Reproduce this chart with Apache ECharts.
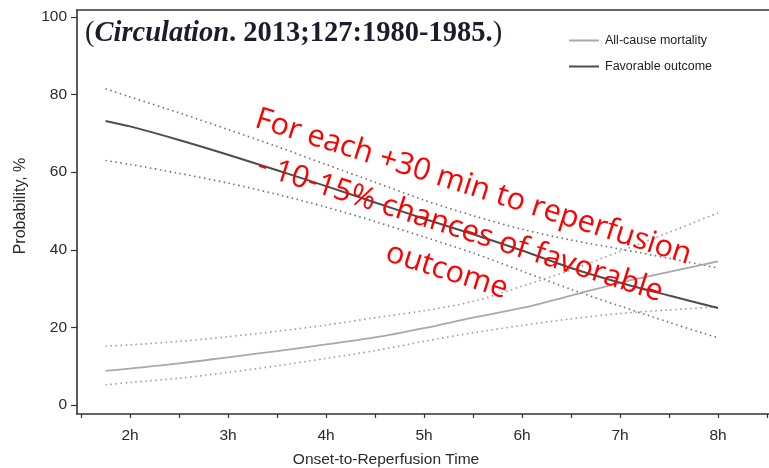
<!DOCTYPE html>
<html>
<head>
<meta charset="utf-8">
<script src="https://cdn.jsdelivr.net/npm/echarts@6/dist/echarts.min.js"></script>
<style>
  html, body { margin: 0; padding: 0; background: #fff; }
  #chart { width: 769px; height: 468px; }
</style>
</head>
<body>
<div id="chart"></div>
<script>
// Onset-to-reperfusion time (hours) at which the model curves are sampled
const hours = [1.75, 2, 2.5, 3, 3.5, 4, 4.5, 5, 5.5, 6, 6.5, 7, 7.5, 8];

// Probability (%) of favorable outcome with its confidence band
const favorable      = [73.2, 71.8, 68.3, 64.5, 60.5, 56.4, 52.2, 48.0, 44.0, 39.8, 35.3, 31.5, 28.2, 25.0];
const favorableUpper = [81.5, 79.4, 75.3, 71.0, 66.6, 62.0, 57.4, 52.8, 48.8, 45.3, 42.5, 40.2, 37.8, 35.3];
const favorableLower = [63.0, 62.0, 59.7, 57.2, 54.3, 51.0, 47.3, 43.3, 39.2, 34.5, 29.8, 25.5, 21.3, 17.3];

// Probability (%) of all-cause mortality with its confidence band
const mortality      = [8.8, 9.4, 10.7, 12.3, 13.9, 15.6, 17.4, 19.8, 22.5, 25.0, 28.2, 31.5, 34.3, 37.0];
const mortalityUpper = [15.2, 15.5, 16.4, 17.6, 19.0, 20.6, 22.5, 24.3, 26.7, 30.6, 34.8, 39.6, 44.5, 49.5];
const mortalityLower = [5.2, 5.8, 6.9, 8.4, 10.1, 12.0, 14.0, 16.4, 18.6, 20.5, 22.2, 23.6, 24.5, 25.3];

// Axis ticks and labels
const xLabelHours = [2, 3, 4, 5, 6, 7, 8];
const xTickHours  = [1.5, 2, 2.5, 3, 3.5, 4, 4.5, 5, 5.5, 6, 6.5, 7, 7.5, 8, 8.5];
const yTicks      = [0, 20, 40, 60, 80, 100];

const seriesNames = ['All-cause mortality', 'Favorable outcome'];

const pairs = arr => hours.map((h, i) => [h, arr[i]]);

const chart = echarts.init(document.getElementById('chart'), null, { renderer: 'canvas' });

const SANS = 'Liberation Sans, Arial, sans-serif';
const SERIF = 'Liberation Serif, Times New Roman, serif';
const INK = '#2a2a2a';

function curve(name, data, color, width, dotted) {
  return {
    name: name,
    type: 'line',
    data: pairs(data),
    smooth: 0.3,
    symbol: 'none',
    silent: true,
    color: color,
    lineStyle: { color: color, width: width, type: dotted ? [1.5, 3.5] : 'solid' },
    z: dotted ? 2 : 3
  };
}

chart.setOption({
  animation: false,
  backgroundColor: '#fff',
  grid: { left: 77, right: 0, top: 10, bottom: 54, outerBoundsMode: 'none', containLabel: false },
  legend: {
    data: seriesNames.map(n => ({ name: n, icon: 'rect' })),
    orient: 'vertical',
    left: 564,
    top: 29,
    itemWidth: 30,
    itemHeight: 2,
    itemGap: 13,
    textStyle: { color: '#222', fontFamily: SANS, fontSize: 12.5, padding: [0, 0, 0, 1] }
  },
  xAxis: [{
    type: 'value',
    min: 1.459,
    max: 8.52,
    name: 'Onset-to-Reperfusion Time',
    nameLocation: 'middle',
    nameGap: 38,
    nameTextStyle: { color: INK, fontFamily: SANS, fontSize: 15.5, padding: [0, 74, 0, 0] },
    axisLine: { show: true, onZero: false, lineStyle: { color: '#333', width: 1.6 } },
    axisTick: { show: true, length: 4, customValues: xTickHours, lineStyle: { color: '#333', width: 1.2 } },
    axisLabel: {
      customValues: xLabelHours,
      margin: 14,
      formatter: v => v + 'h',
      color: INK, fontFamily: SANS, fontSize: 15.5
    },
    splitLine: { show: false }
  }, {
    type: 'value',
    position: 'top',
    min: 1.459,
    max: 8.52,
    axisLine: { show: true, onZero: false, lineStyle: { color: '#333', width: 1.6 } },
    axisTick: { show: false },
    axisLabel: { show: false },
    splitLine: { show: false }
  }],
  yAxis: {
    type: 'value',
    min: -2.32,
    max: 101.8,
    name: 'Probability, %',
    nameLocation: 'middle',
    nameGap: 48,
    nameTextStyle: { color: INK, fontFamily: SANS, fontSize: 16, padding: [0, 0, 0, 12] },
    axisLine: { show: true, onZero: false, lineStyle: { color: '#333', width: 1.6 } },
    axisTick: { show: true, length: 6, customValues: yTicks, lineStyle: { color: '#333', width: 1.2 } },
    axisLabel: { customValues: yTicks, margin: 10, color: INK, fontFamily: SANS, fontSize: 15.5 },
    splitLine: { show: false }
  },
  series: [
    curve(seriesNames[0], mortality, '#a9a9a9', 1.8, false),
    curve(seriesNames[1], favorable, '#4d4d4d', 2, false),
    curve('Favorable upper', favorableUpper, '#6e6e6e', 1.6, true),
    curve('Favorable lower', favorableLower, '#6e6e6e', 1.6, true),
    curve('Mortality upper', mortalityUpper, '#9a9a9a', 1.6, true),
    curve('Mortality lower', mortalityLower, '#9a9a9a', 1.6, true)
  ],
  graphic: [
    {
      type: 'text',
      x: 85,
      y: 34,
      silent: true,
      style: {
        text: '{p|(}{i|Circulation}{b|. 2013;127:1980-1985.}{p|)}',
        verticalAlign: 'middle',
        rich: {
          p: { fontFamily: SERIF, fontSize: 28.5, fill: '#1c1c2c' },
          i: { fontFamily: SERIF, fontSize: 28.5, fontStyle: 'italic', fontWeight: 'bold', fill: '#1c1c2c' },
          b: { fontFamily: SERIF, fontSize: 28.5, fontWeight: 'bold', fill: '#1c1c2c' }
        }
      }
    },
    {
      type: 'text',
      x: 460,
      y: 229,
      rotation: -17.6 * Math.PI / 180,
      silent: true,
      z: 10,
      style: {
        text: 'For each +30 min to reperfusion\n- 10-15% chances of favorable\noutcome',
        fill: '#ff0000',
        fontFamily: 'Open Sans, sans-serif',
        fontSize: 30.5,
        lineHeight: 44,
        align: 'center',
        verticalAlign: 'middle'
      }
    }
  ]
});
</script>
</body>
</html>
